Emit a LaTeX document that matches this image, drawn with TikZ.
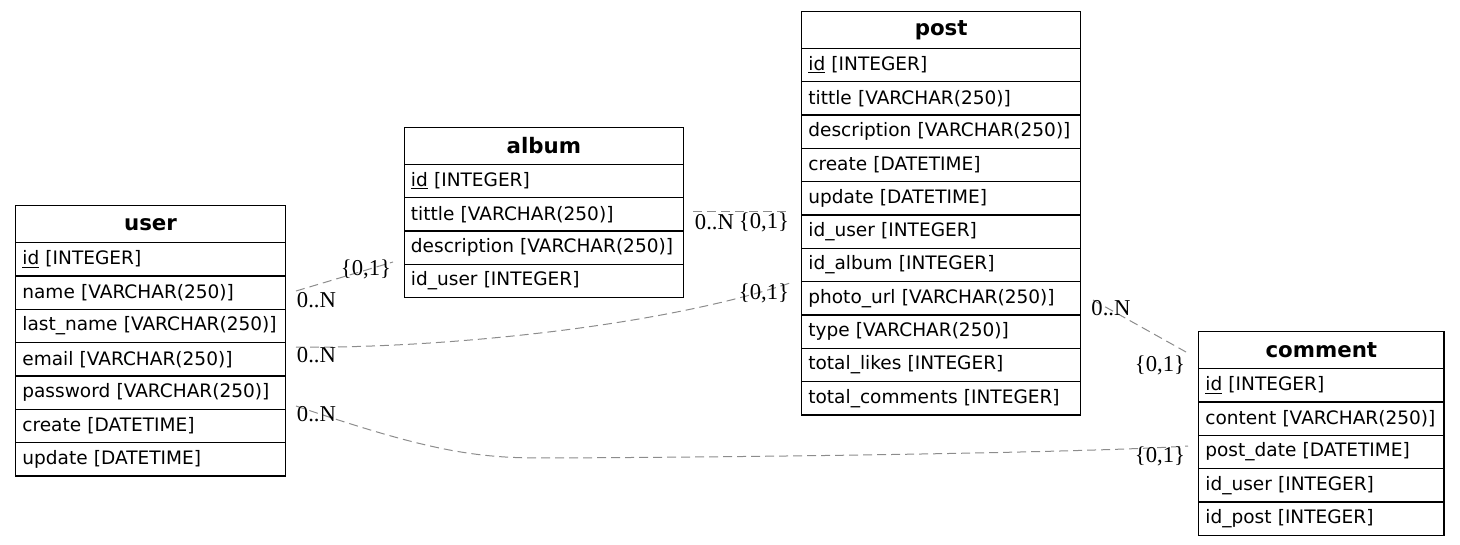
\documentclass[tikz,border=0pt]{standalone}
\usepackage{fontspec}
\setmainfont{DejaVu Sans}
\newfontfamily\cardfont{Liberation Serif}
\usetikzlibrary{positioning}

\tikzset{
  tabhead/.style={draw=black, line width=1pt, outer sep=0pt, inner sep=0pt,
    minimum height=27.75pt, align=center, font=\fontsize{16}{18}\selectfont\bfseries},
  tabrow/.style={draw=black, line width=1pt, outer sep=0pt, inner xsep=5pt, inner ysep=0pt,
    minimum height=25pt, align=left, font=\fontsize{13.9}{16}\selectfont},
  card/.style={font=\cardfont\fontsize{17}{19}\selectfont, inner sep=0pt},
  rel/.style={draw=gray!90, line width=0.75pt, dash pattern=on 6.75pt off 3.75pt}
}

% tabla: nombre, posicion, ancho, titulo, filas
\newcommand{\erdtable}[5]{%
  \pgfmathsetlengthmacro{\rowtw}{#3-10pt}
  \node[tabhead, anchor=north west, minimum width=#3, text width=#3] (#1-0) at #2 {#4};
  \foreach \f [count=\i, remember=\i as \j (initially 0)] in {#5}
    \node[tabrow, text width=\rowtw, below=0pt of #1-\j] (#1-\i) {\f};
}

\begin{document}
\begin{tikzpicture}[x=0.75pt, y=-0.75pt]
  \useasboundingbox (0,0) rectangle (1460,545);

  % Tablas
  \erdtable{user}{(15.7,205.7)}{202.2pt}{user}{%
    {\underline{id} [INTEGER]}, {name [VARCHAR(250)]}, {last\_name [VARCHAR(250)]},
    {email [VARCHAR(250)]}, {password [VARCHAR(250)]}, {create [DATETIME]},
    {update [DATETIME]}}
  \erdtable{album}{(404.3,127.3)}{209.25pt}{album}{%
    {\underline{id} [INTEGER]}, {tittle [VARCHAR(250)]},
    {description [VARCHAR(250)]}, {id\_user [INTEGER]}}
  \erdtable{post}{(801.7,11.3)}{209.25pt}{post}{%
    {\underline{id} [INTEGER]}, {tittle [VARCHAR(250)]}, {description [VARCHAR(250)]},
    {create [DATETIME]}, {update [DATETIME]}, {id\_user [INTEGER]},
    {id\_album [INTEGER]}, {photo\_url [VARCHAR(250)]}, {type [VARCHAR(250)]},
    {total\_likes [INTEGER]}, {total\_comments [INTEGER]}}
  \erdtable{comment}{(1198.7,331.7)}{184pt}{comment}{%
    {\underline{id} [INTEGER]}, {content [VARCHAR(250)]}, {post\_date [DATETIME]},
    {id\_user [INTEGER]}, {id\_post [INTEGER]}}

  % Extremos de las relaciones
  \coordinate (ua) at (296,291);
  \coordinate (au) at (393,262);
  \coordinate (up) at (296,347);
  \coordinate (pu) at (790,283);
  \coordinate (uc) at (296,406);
  \coordinate (cu) at (1188,446);
  \coordinate (ap) at (693,212);
  \coordinate (pa) at (790,212);
  \coordinate (pc) at (1093,300);
  \coordinate (cp) at (1186,352);

  % Relaciones
  \draw[rel] (ua) -- (au);
  \draw[rel] (up) .. controls (420,349) and (650,330) .. (pu);
  \draw[rel] (uc) .. controls (420,448) and (470,458) .. (540,458)
                  .. controls (800,457) and (1100,452) .. (cu);
  \draw[rel] (ap) -- (pa);
  \draw[rel] (pc) -- (cp);

  % Cardinalidades
  \node[card] (l1) at (316.5,300) {0..N};
  \node[card] (l2) at (366,269) {\{0,1\}};
  \node[card] (l3) at (316.5,355) {0..N};
  \node[card] (l4) at (764,293) {\{0,1\}};
  \node[card] (l5) at (316.5,414) {0..N};
  \node[card] (l6) at (1160,456) {\{0,1\}};
  \node[card] (l7) at (714.5,222) {0..N};
  \node[card] (l8) at (764,222) {\{0,1\}};
  \node[card] (l9) at (1111,308) {0..N};
  \node[card] (l10) at (1160,365) {\{0,1\}};
\end{tikzpicture}
\end{document}
